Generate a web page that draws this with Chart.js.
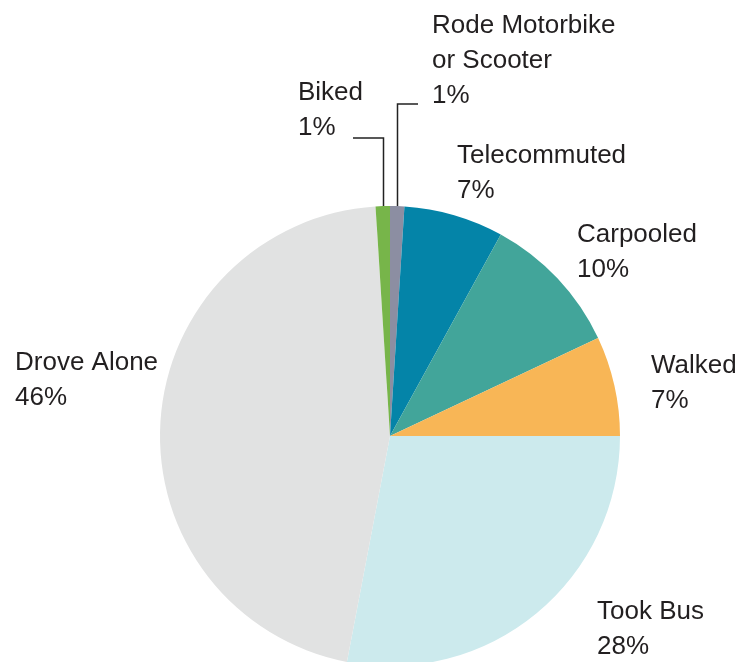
<!DOCTYPE html>
<html>
<head>
<meta charset="utf-8">
<script src="https://cdn.jsdelivr.net/npm/chart.js@4"></script>
<style>
  html, body { margin: 0; padding: 0; background: #fff; overflow: hidden; }
  #wrap { width: 741px; height: 662px; overflow: hidden; }
</style>
</head>
<body>
<div id="wrap"><canvas id="commuteChart" width="741" height="700"></canvas></div>
<script>
// how people got to work, in percent, clockwise from 12 o'clock
const categories = ["Rode Motorbike\nor Scooter", "Telecommuted", "Carpooled", "Walked", "Took Bus", "Drove Alone", "Biked"];
const shares = [1, 7, 10, 7, 28, 46, 1];
const sliceColors = ["#8c8ea2", "#0484a8", "#42a59a", "#f8b656", "#cceaed", "#e1e2e2", "#77b54a"];

// label spots: left x and baseline of first line
const labelSpots = [
  { x: 432, y: 33, leader: { bendY: 104, endX: 418 } },
  { x: 457, y: 163 },
  { x: 577, y: 242 },
  { x: 651, y: 373 },
  { x: 597, y: 619 },
  { x: 15, y: 370 },
  { x: 298, y: 100, leader: { bendY: 138, endX: 353 } }
];
const lineGap = 35;

// plugin for text labels + leader lines
const sliceLabels = {
  id: "sliceLabels",
  afterDraw(chart) {
    const ctx = chart.ctx;
    const arcs = chart.getDatasetMeta(0).data;
    ctx.save();
    ctx.font = "26px 'Liberation Sans', Arial, sans-serif";
    ctx.fillStyle = "#221f20";
    ctx.textAlign = "left";
    ctx.textBaseline = "alphabetic";
    categories.forEach((name, i) => {
      const spot = labelSpots[i];
      const lines = name.split("\n").concat([shares[i] + "%"]);
      lines.forEach((t, j) => ctx.fillText(t, spot.x, spot.y + j * lineGap));

      if (spot.leader) {
        const a = arcs[i].getProps(["x", "y", "startAngle", "endAngle", "outerRadius"], true);
        const mid = (a.startAngle + a.endAngle) / 2;
        const sx = a.x + Math.cos(mid) * a.outerRadius;
        const sy = a.y + Math.sin(mid) * a.outerRadius;
        ctx.beginPath();
        ctx.strokeStyle = "#222";
        ctx.lineWidth = 1.5;
        ctx.moveTo(Math.round(sx) + 0.5, sy);
        ctx.lineTo(Math.round(sx) + 0.5, spot.leader.bendY);
        ctx.lineTo(spot.leader.endX, spot.leader.bendY);
        ctx.stroke();
      }
    });
    ctx.restore();
  }
};

new Chart("commuteChart", {
  type: "pie",
  data: {
    labels: categories,
    datasets: [{
      data: shares,
      backgroundColor: sliceColors,
      borderWidth: 0
    }]
  },
  options: {
    responsive: false,
    animation: false,
    layout: { padding: { left: 160, right: 121, top: 206, bottom: 34 } },
    plugins: {
      legend: { display: false },
      tooltip: { enabled: false }
    }
  },
  plugins: [sliceLabels]
});
</script>
</body>
</html>
